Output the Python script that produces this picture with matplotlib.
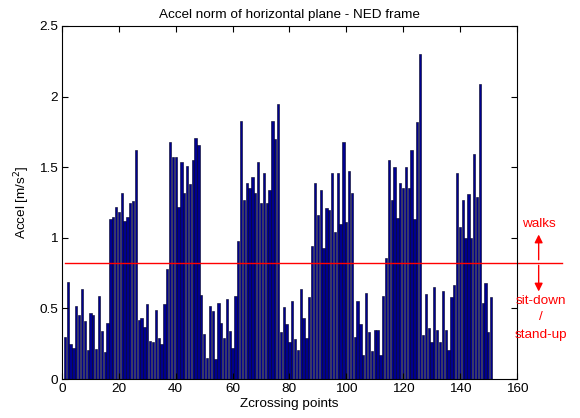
import matplotlib
matplotlib.use("Agg")
import matplotlib.pyplot as plt
import numpy as np

plt.rcParams['font.family'] = ['Liberation Sans', 'DejaVu Sans']

values = [
    0.30, 0.69, 0.25, 0.22, 0.52, 0.45, 0.64, 0.41, 0.205, 0.47,
    0.45, 0.21, 0.59, 0.34, 0.19, 0.40, 1.13, 1.145, 1.22, 1.18,
    1.32, 1.12, 1.15, 1.25, 1.26, 1.62, 0.42, 0.43, 0.37, 0.53,
    0.27, 0.26, 0.49, 0.29, 0.25, 0.53, 0.78, 1.675, 1.575, 1.575,
    1.22, 1.54, 1.32, 1.51, 1.38, 1.55, 1.71, 1.66, 0.595, 0.32,
    0.15, 0.52, 0.48, 0.14, 0.536, 0.40, 0.29, 0.565, 0.34, 0.22,
    0.59, 0.98, 1.83, 1.27, 1.385, 1.35, 1.43, 1.315, 1.54, 1.25,
    1.46, 1.25, 1.34, 1.83, 1.70, 1.95, 0.335, 0.51, 0.39, 0.26,
    0.55, 0.28, 0.205, 0.64, 0.43, 0.29, 0.58, 0.94, 1.39, 1.16,
    1.34, 0.93, 1.21, 1.20, 1.457, 1.04, 1.457, 1.10, 1.68, 1.11,
    1.47, 1.315, 0.30, 0.55, 0.39, 0.17, 0.61, 0.33, 0.20, 0.345,
    0.345, 0.17, 0.59, 0.86, 1.55, 1.27, 1.50, 1.14, 1.39, 1.35,
    1.50, 1.35, 1.625, 1.13, 1.82, 2.30, 0.31, 0.60, 0.36, 0.26,
    0.65, 0.345, 0.265, 0.62, 0.345, 0.205, 0.58, 0.665, 1.457, 1.08,
    1.27, 1.00, 1.31, 1.00, 1.59, 1.29, 2.09, 0.54, 0.68, 0.33,
    0.58,
]
threshold = 0.825
x_ticks = [0, 20, 40, 60, 80, 100, 120, 140, 160]
y_ticks = [0, 0.5, 1, 1.5, 2, 2.5]
y_tick_labels = ['0', '0.5', '1', '1.5', '2', '2.5']

fs = 9.7
fig = plt.figure(figsize=(5.8, 4.18), dpi=100)
ax = fig.add_axes([0.107, 0.0933, 0.784, 0.8445])

idx = np.arange(1, len(values) + 1)
ax.bar(idx, values, width=0.8, color='#00008F', edgecolor='#000020', linewidth=0.4)

ax.set_xlim(0, 160)
ax.set_ylim(0, 2.5)
ax.set_xticks(x_ticks)
ax.set_yticks(y_ticks)
ax.set_yticklabels(y_tick_labels)
ax.tick_params(direction='in', top=True, right=True, labelsize=fs, length=4, width=0.8, pad=3)
for s in ax.spines.values():
    s.set_linewidth(0.8)

ax.plot([1, 175.8], [threshold, threshold], color='red', linewidth=1.0, clip_on=False)

ax.annotate('', xy=(167.7, 1.043), xytext=(167.7, threshold),
            arrowprops=dict(arrowstyle='-|>', color='red', lw=1.0, mutation_scale=12),
            annotation_clip=False)
ax.annotate('', xy=(167.7, 0.60), xytext=(167.7, threshold),
            arrowprops=dict(arrowstyle='-|>', color='red', lw=1.0, mutation_scale=12),
            annotation_clip=False)
ax.text(167.7, 1.098, 'walks', color='red', fontsize=fs, ha='center', va='center', clip_on=False)
ax.text(168.4, 0.555, 'sit-down', color='red', fontsize=fs, ha='center', va='center', clip_on=False)
ax.text(168.4, 0.439, '/', color='red', fontsize=fs, ha='center', va='center', clip_on=False)
ax.text(168.4, 0.312, 'stand-up', color='red', fontsize=fs, ha='center', va='center', clip_on=False)

ax.set_title('Accel norm of horizontal plane - NED frame', fontsize=fs, pad=6)
ax.set_xlabel('Zcrossing points', fontsize=fs, labelpad=2)
ax.set_ylabel('Accel [m/s$^2$]', fontsize=fs, labelpad=5)

fig.savefig('out.png', dpi=100)
